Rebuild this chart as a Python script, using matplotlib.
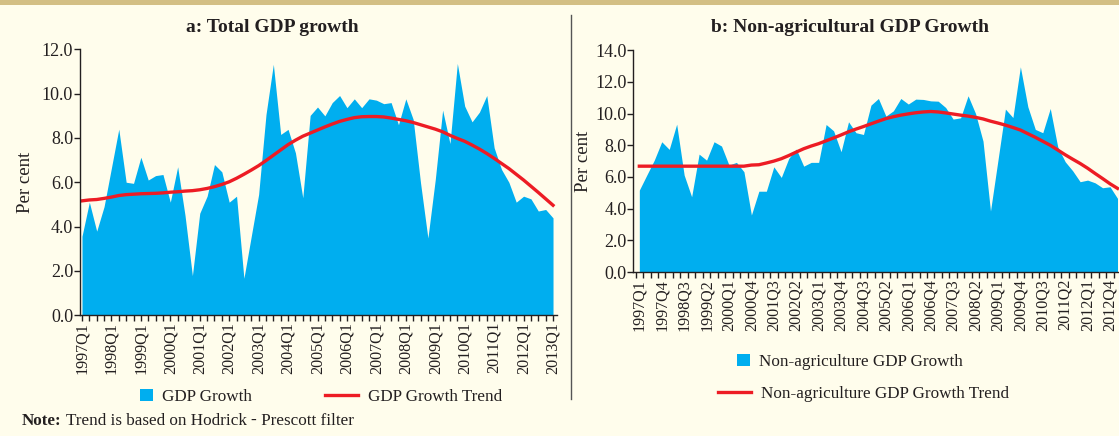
import numpy as np
import matplotlib
matplotlib.use("Agg")
import matplotlib.pyplot as plt
from matplotlib.ticker import FixedLocator, FormatStrFormatter
from matplotlib.patches import Patch
from matplotlib.lines import Line2D

plt.rcParams['font.family'] = ['Liberation Serif', 'DejaVu Serif']

# quarters 1997Q1 .. 2013Q1
quarters = [f"{y}Q{q}" for y in range(1997, 2014) for q in range(1, 5)][:65]

gdp_growth = [3.56, 5.1, 3.79, 4.9, 6.65, 8.4, 6.0, 5.95, 7.13, 6.1,
              6.3, 6.35, 5.1, 6.7, 4.5, 1.78, 4.6, 5.37, 6.8, 6.47,
              5.1, 5.37, 1.66, 3.56, 5.45, 9.06, 11.33, 8.16, 8.39, 7.33,
              5.3, 9.02, 9.4, 9.0, 9.6, 9.92, 9.37, 9.77, 9.37, 9.77,
              9.71, 9.55, 9.6, 8.6, 9.77, 8.84, 5.97, 3.48, 6.12, 9.26,
              7.75, 11.37, 9.44, 8.73, 9.17, 9.92, 7.56, 6.58, 6.0, 5.1,
              5.37, 5.25, 4.7, 4.77, 4.39]
gdp_trend = [5.16, 5.2, 5.22, 5.27, 5.33, 5.4, 5.44, 5.46, 5.48, 5.49,
             5.5, 5.52, 5.55, 5.57, 5.6, 5.62, 5.66, 5.72, 5.8, 5.9,
             6.02, 6.18, 6.36, 6.55, 6.75, 6.98, 7.22, 7.46, 7.7, 7.9,
             8.08, 8.22, 8.36, 8.5, 8.63, 8.75, 8.84, 8.92, 8.96, 8.97,
             8.97, 8.95, 8.9, 8.84, 8.78, 8.7, 8.6, 8.5, 8.4, 8.28,
             8.12, 7.98, 7.85, 7.68, 7.5, 7.3, 7.08, 6.85, 6.62, 6.36,
             6.1, 5.82, 5.54, 5.25, 4.96]

nonagri_growth = [5.17, 6.12, 7.06, 8.22, 7.74, 9.33, 6.12, 4.75, 7.44, 7.06,
                  8.22, 7.95, 6.75, 6.92, 6.33, 3.6, 5.1, 5.1, 6.64, 5.97,
                  7.17, 7.76, 6.68, 6.92, 6.92, 9.31, 8.91, 7.59, 9.48, 8.79,
                  8.68, 10.53, 10.95, 9.84, 10.17, 10.95, 10.6, 10.91, 10.89, 10.8,
                  10.78, 10.38, 9.65, 9.73, 11.12, 10.0, 8.26, 3.85, 7.06, 10.28,
                  9.75, 12.95, 10.43, 9.0, 8.79, 10.32, 7.9, 6.96, 6.39, 5.7,
                  5.8, 5.63, 5.32, 5.38, 4.65]
nonagri_trend = [6.68, 6.68, 6.68, 6.68, 6.68, 6.68, 6.68, 6.68, 6.68, 6.68,
                 6.68, 6.68, 6.68, 6.68, 6.68, 6.75, 6.77, 6.88, 7.0, 7.15,
                 7.35, 7.57, 7.78, 7.95, 8.1, 8.28, 8.46, 8.65, 8.85, 9.02,
                 9.18, 9.35, 9.52, 9.68, 9.8, 9.9, 9.98, 10.05, 10.1, 10.13,
                 10.1, 10.04, 9.97, 9.9, 9.84, 9.76, 9.66, 9.52, 9.4, 9.27,
                 9.12, 8.96, 8.73, 8.5, 8.25, 8.0, 7.7, 7.4, 7.12, 6.85,
                 6.55, 6.22, 5.9, 5.57, 5.28]

BG = '#FFFDEC'
BLUE = '#00AEEF'
RED = '#ED1C24'
DARK = '#231F20'

fig = plt.figure(figsize=(11.19, 4.36), dpi=100, facecolor=BG)

# top stripe and separator
fig.add_artist(plt.Rectangle((0, 0.988), 1, 0.012, transform=fig.transFigure,
                             color='#D3BF84', lw=0))
fig.add_artist(Line2D([0.5105, 0.5105], [0.085, 0.965], transform=fig.transFigure,
                      color='#555555', lw=1))

ax1 = fig.add_axes([0.0715, 0.2775, 0.426, 0.609])
ax2 = fig.add_axes([0.566, 0.376, 0.434, 0.509])

x = np.arange(len(quarters))


def style_axis(ax, ymax, ystep):
    ax.set_facecolor(BG)
    for s in ['top', 'right']:
        ax.spines[s].set_visible(False)
    for s in ['left', 'bottom']:
        ax.spines[s].set_color(DARK)
        ax.spines[s].set_linewidth(1)
    ax.set_ylim(0, ymax)
    ax.set_yticks(np.arange(0, ymax + 0.01, ystep))
    ax.yaxis.set_major_formatter(FormatStrFormatter('%.1f'))
    ax.tick_params(axis='y', direction='out', length=4, width=1, color=DARK,
                   labelsize=13, pad=1, labelcolor=DARK)
    ax.set_ylabel('Per cent', fontsize=13.5, color=DARK)


# panel a
ax1.fill_between(x, 0, gdp_growth, color=BLUE, lw=0)
ax1.plot(x, gdp_trend, color=RED, lw=2.4)
style_axis(ax1, 12, 2)
ax1.set_xlim(-0.27, 64.5)
ax1.xaxis.set_minor_locator(FixedLocator(x))
ax1.set_xticks(x[::4])
ax1.set_xticklabels(quarters[::4], rotation=90)
ax1.tick_params(axis='x', which='both', direction='out', length=4, width=1,
                color=DARK, labelsize=11.6, pad=1, labelcolor=DARK)
ax1.yaxis.set_label_coords(-0.096, 0.5)

# panel b
ax2.fill_between(x, 0, nonagri_growth, color=BLUE, lw=0)
ax2.plot(x, nonagri_trend, color=RED, lw=2.4)
style_axis(ax2, 14, 2)
ax2.set_xlim(-0.8, 64.2)
ax2.xaxis.set_minor_locator(FixedLocator(x - 0.5))
ax2.set_xticks(x[:-1:3])
ax2.set_xticklabels(quarters[:-1:3], rotation=90)
ax2.tick_params(axis='x', which='major', length=0, pad=5, labelsize=11.6,
                labelcolor=DARK)
ax2.tick_params(axis='x', which='minor', direction='out', length=4, width=1,
                color=DARK)
ax2.yaxis.set_label_coords(-0.085, 0.5)

# titles
fig.text(0.243, 0.938, 'a: Total GDP growth', ha='center', va='center',
         fontsize=14, fontweight='bold', color=DARK)
fig.text(0.760, 0.938, 'b: Non-agricultural GDP Growth', ha='center', va='center',
         fontsize=14, fontweight='bold', color=DARK)

# legends
def add_legend(handle, label, xy, hl):
    fig.legend([handle], [label], loc='center left', bbox_to_anchor=xy,
               frameon=False, borderpad=0, borderaxespad=0, handlelength=hl,
               handleheight=0.75, handletextpad=0.55, fontsize=12.3,
               labelcolor=DARK)

sq = Patch(facecolor=BLUE, edgecolor='none')
ln = Line2D([], [], color=RED, lw=2.4)
add_legend(sq, 'GDP Growth', (0.1251, 0.0894), 0.75)
add_legend(ln, 'GDP Growth Trend', (0.2904, 0.0894), 1.95)
add_legend(sq, 'Non-agriculture GDP Growth', (0.6586, 0.1697), 0.75)
add_legend(ln, 'Non-agriculture GDP Growth Trend', (0.6416, 0.0963), 1.95)

# note
t1 = fig.text(0.0197, 0.034, 'Note:', fontsize=12.3, fontweight='bold',
              va='center', color=DARK)
t2 = plt.annotate(' Trend is based on Hodrick ', xy=(1, 0.5), xycoords=t1,
                  va='center', ha='left', fontsize=12.3, color=DARK,
                  annotation_clip=False)
t3 = plt.annotate('-', xy=(1, 0.5), xycoords=t2, va='center', ha='left',
                  fontsize=12.3, fontweight='bold', color=DARK, annotation_clip=False)
plt.annotate(' Prescott filter', xy=(1, 0.5), xycoords=t3, va='center', ha='left',
             fontsize=12.3, color=DARK, annotation_clip=False)

fig.savefig('out.png', dpi=100, facecolor=BG)
